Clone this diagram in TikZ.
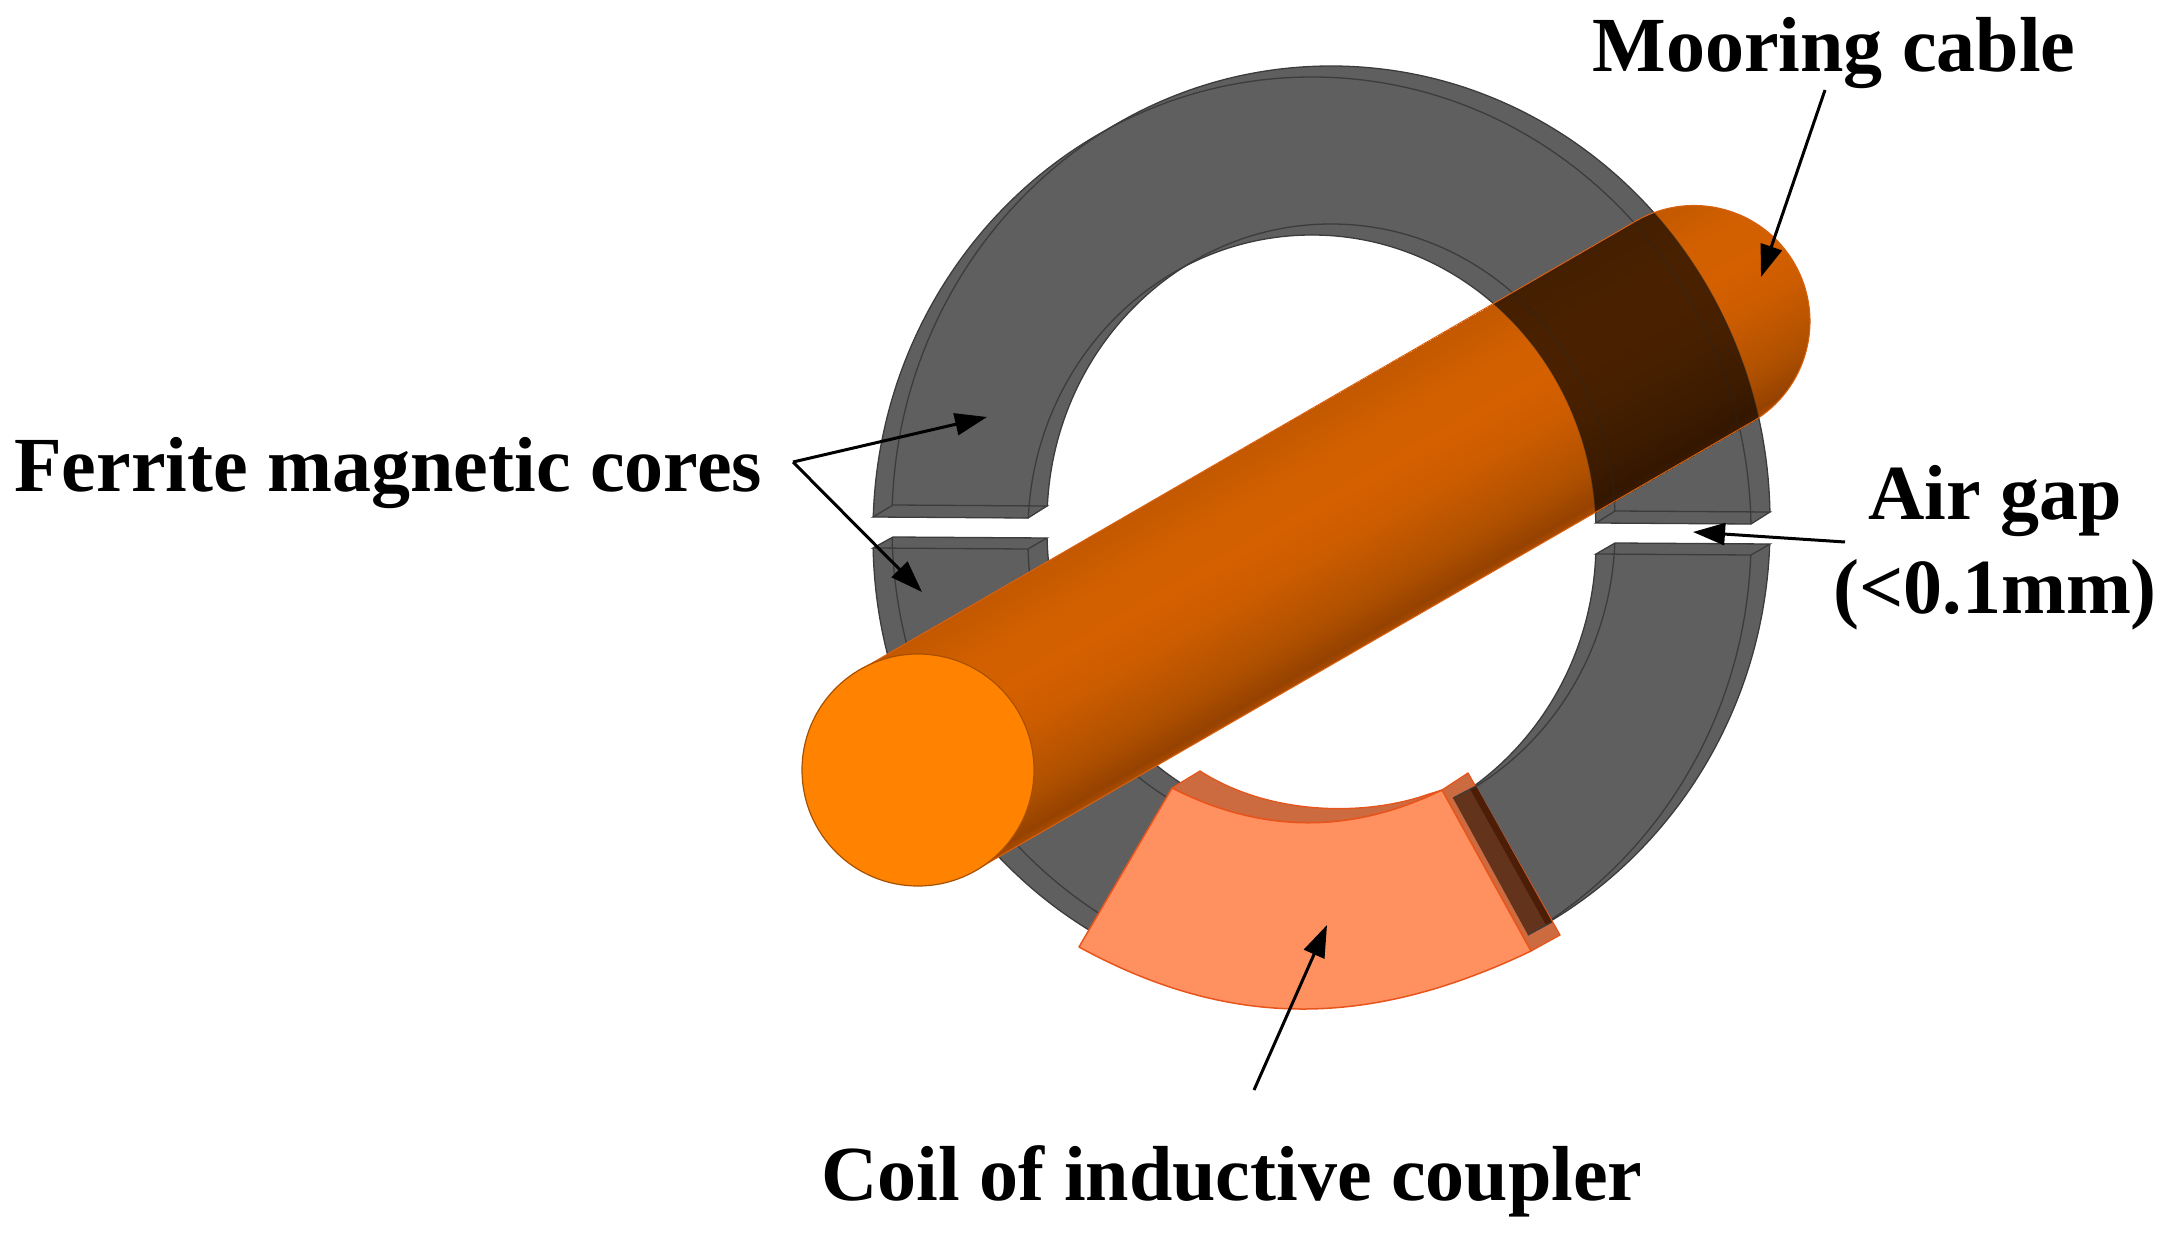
\documentclass[tikz,border=0pt]{standalone}
\usepackage{fontspec}
\setmainfont{Liberation Serif}
\usetikzlibrary{arrows.meta}
\definecolor{ferrite}{HTML}{5F5F5F}
\definecolor{ferriteline}{HTML}{3C3C3C}
\definecolor{capfront}{HTML}{FF8300}
\definecolor{capedge}{HTML}{A85000}
\definecolor{coilfront}{HTML}{FF9060}
\definecolor{coiledge}{HTML}{E8551C}
\definecolor{coilside}{HTML}{CC6A40}
\definecolor{coildark}{HTML}{64331C}
\definecolor{coildarker}{HTML}{4C1E08}
\definecolor{cableedge}{HTML}{D9610F}
\definecolor{cabA}{HTML}{AD4C00}
\definecolor{cabB}{HTML}{964200}
\definecolor{cabC}{HTML}{AF5000}
\definecolor{cabD}{HTML}{CC5C00}
\definecolor{cabE}{HTML}{D46000}
\definecolor{cabF}{HTML}{D26000}
\definecolor{cabG}{HTML}{C25800}
\pgfdeclareverticalshading{cableshade}{1300bp}{
  color(0bp)=(cabA);
  color(8bp)=(cabB);
  color(40bp)=(cabC);
  color(100bp)=(cabD);
  color(140bp)=(cabE);
  color(180bp)=(cabF);
  color(231bp)=(cabG)}
\newcommand{\myringAup}{(1312,532) ellipse [x radius=439,y radius=455] (1312,532) ellipse [x radius=284,y radius=297]}
\newcommand{\myringBup}{(1331,521) ellipse [x radius=439,y radius=455] (1331,521) ellipse [x radius=284,y radius=297]}
\newcommand{\myringAlo}{(1312,538) ellipse [x radius=439,y radius=455] (1312,542) ellipse [x radius=284,y radius=297]}
\newcommand{\myringBlo}{(1331,527) ellipse [x radius=439,y radius=455] (1331,531) ellipse [x radius=284,y radius=297]}
\newcommand{\myclipAup}{(500,514) -- (2100,527) -- (2100,0) -- (500,0) -- cycle}
\newcommand{\myclipBup}{(500,502) -- (2100,515) -- (2100,0) -- (500,0) -- cycle}
\newcommand{\myclipAlo}{(500,545) -- (2100,558) -- (2100,1233) -- (500,1233) -- cycle}
\newcommand{\myclipBlo}{(500,534) -- (2100,547) -- (2100,1233) -- (500,1233) -- cycle}
\newcommand{\mygapfaces}{
  (873,517) -- (893,505) -- (1047,506) -- (1028,518) -- cycle
  (1596,523) -- (1615,511) -- (1770,512) -- (1751,524) -- cycle
  (873,548) -- (893,537) -- (1047,538) -- (1028,549) -- cycle
  (1596,554) -- (1615,543) -- (1770,544) -- (1751,555) -- cycle}
\newcommand{\myringfill}{%
  \begin{scope}\clip \myclipAup; \fill[even odd rule] \myringAup; \end{scope}
  \begin{scope}\clip \myclipBup; \fill[even odd rule] \myringBup; \end{scope}
  \begin{scope}\clip \myclipAlo; \fill[even odd rule] \myringAlo; \end{scope}
  \begin{scope}\clip \myclipBlo; \fill[even odd rule] \myringBlo; \end{scope}
  \fill \mygapfaces;}
\newcommand{\myringlines}{%
  \begin{scope}\clip \myclipAup; \draw \myringAup; \end{scope}
  \begin{scope}\clip \myclipBup; \draw \myringBup; \end{scope}
  \begin{scope}\clip \myclipAlo; \draw \myringAlo; \end{scope}
  \begin{scope}\clip \myclipBlo; \draw \myringBlo; \end{scope}
  \draw \mygapfaces;}
\newcommand{\mycablepath}{(860,670) -- (1636,221) arc[start angle=-120,end angle=60,radius=116] -- (976,870) -- cycle}
\tikzset{
  callout/.style={draw=black,line width=3pt,-{Stealth[length=32pt,width=22pt,inset=0pt]}},
  txtlabel/.style={font=\fontsize{78}{94}\selectfont\bfseries,text=black,inner sep=0pt},
  ferriteedge/.style={draw=ferriteline,line width=1.3pt,fill=none},
  coilface/.style={fill=coilfront,draw=coiledge,line width=1.5pt,line join=round},
  coillip/.style={fill=coilside,draw=coiledge,line width=1.3pt,line join=round},
}
\begin{document}
\begin{tikzpicture}[x=1pt,y=-1pt]
\useasboundingbox (0,0) rectangle (2168,1233);
% ferrite cores
\begin{scope}[fill=ferrite]
  \myringfill
\end{scope}
\begin{scope}[ferriteedge]
  \myringlines
\end{scope}
% cable body
\begin{scope}
  \clip \mycablepath;
  \node[name=cablebody,rotate=30,inner sep=0pt,outer sep=0pt] at (1306,545.5) {\pgfuseshading{cableshade}};
\end{scope}
% ferrite seen through the cable
\begin{scope}
  \clip \mycablepath;
  \clip (1400,100) rectangle (1900,600);
  \begin{scope}[transparency group,opacity=.65,fill=black]
    \myringfill
  \end{scope}
  \begin{scope}[draw=black!85,line width=1.2pt,fill=none,draw opacity=.45]
    \myringlines
  \end{scope}
\end{scope}
\draw[draw=cableedge,line width=1pt] \mycablepath;
% front disc
\node[name=capdisc,circle,minimum size=232pt,inner sep=0pt,outer sep=0pt,fill=capfront,draw=capedge,line width=1.2pt] at (918,770) {};
% coil
\path[coillip] (1172,788) -- (1200,771) .. controls (1270,816) and (1365,816) .. (1426,795) -- (1442,790) .. controls (1352,834) and (1262,834) .. (1172,788) -- cycle;
\path[coillip] (1442,790) -- (1468,773) -- (1560,935) -- (1531,951) -- cycle;
\fill[coildark] (1453,798) -- (1476,786) -- (1552,922) -- (1528,935) -- cycle;
\fill[coildarker] (1470,789) -- (1476,786) -- (1552,922) -- (1546,925) -- cycle;
\draw[draw=ferriteline,line width=1.2pt] (1453,798) -- (1476,786) (1528,935) -- (1552,922);
\path[coilface] (1172,788) .. controls (1262,834) and (1352,834) .. (1442,790) -- (1531,951) .. controls (1368,1029) and (1229,1029) .. (1079,947) -- cycle;
% labels
\node[txtlabel,anchor=base,name=mooring] at (1834,72) {Mooring cable};
\node[txtlabel,anchor=base,name=ferritelabel] at (388,491) {Ferrite magnetic cores};
\node[txtlabel,align=center,anchor=center,name=airgap] at (1995,548) {Air gap\\(<0.1mm)};
\node[txtlabel,anchor=base,name=coil] at (1232,1200) {Coil of inductive coupler};
% callouts
\coordinate (moorTail) at (1825,90);
\coordinate (moorTip) at (1761,277);
\coordinate (ferApex) at (793,462);
\coordinate (ferTipA) at (987,417);
\coordinate (ferTipB) at (922,592);
\coordinate (airTail) at (1845,542);
\coordinate (airTip) at (1693,532);
\coordinate (coilTail) at (1254,1090);
\coordinate (coilTip) at (1327,925);
\draw[callout] (moorTail) -- (moorTip);
\draw[callout] (ferApex) -- (ferTipA);
\draw[callout] (ferApex) -- (ferTipB);
\draw[callout] (airTail) -- (airTip);
\draw[callout] (coilTail) -- (coilTip);
\end{tikzpicture}
\end{document}
